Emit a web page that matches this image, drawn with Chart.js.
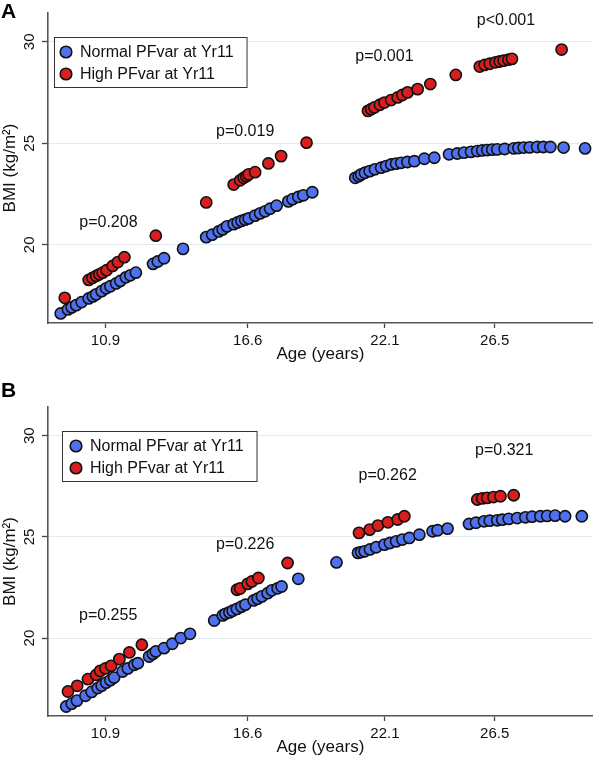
<!DOCTYPE html>
<html>
<head>
<meta charset="utf-8">
<script src="https://cdn.jsdelivr.net/npm/chart.js@4.4.1/dist/chart.umd.min.js"></script>
<style>
  body { margin: 0; background: #fff; }
  canvas { display: block; }
</style>
</head>
<body>
<canvas id="panelA" width="600" height="380"></canvas>
<canvas id="panelB" width="600" height="381"></canvas>
<script>
// --- data ---
const seriesLabels = ['Normal PFvar at Yr11', 'High PFvar at Yr11'];
const xTickValues = [10.9, 16.6, 22.1, 26.5]; // mean age at each visit
const yTickValues = [20, 25, 30];

// panel A
const ageNormalA = [9.11, 9.40, 9.55, 9.73, 9.95, 10.23, 10.40, 10.53, 10.75, 10.93, 11.10, 11.33, 11.50, 11.72, 11.90, 12.12,
  12.81, 13.00, 13.25, 14.01, 14.94, 15.18, 15.44, 15.60, 15.77, 16.04, 16.20, 16.35, 16.50, 16.64, 16.90, 17.10, 17.30,
  17.50, 17.76, 18.23, 18.40, 18.63, 18.83, 19.19, 20.91, 21.05, 21.15, 21.30, 21.49, 21.70, 21.95, 22.15, 22.35, 22.55,
  22.75, 23.00, 23.28, 23.68, 24.08, 24.67, 25.00, 25.27, 25.55, 25.80, 26.00, 26.20, 26.40, 26.60, 26.90, 27.26, 27.45,
  27.66, 27.90, 28.20, 28.45, 28.73, 29.26, 30.12];
const bmiNormalA = [16.62, 16.82, 16.92, 17.03, 17.18, 17.36, 17.46, 17.56, 17.72, 17.86, 17.96, 18.10, 18.22, 18.40, 18.50, 18.63,
  19.06, 19.18, 19.34, 19.80, 20.38, 20.50, 20.66, 20.76, 20.91, 21.02, 21.10, 21.18, 21.24, 21.30, 21.44, 21.55, 21.65,
  21.78, 21.93, 22.14, 22.25, 22.36, 22.44, 22.59, 23.30, 23.38, 23.47, 23.55, 23.63, 23.72, 23.80, 23.88, 23.96, 24.00,
  24.04, 24.08, 24.12, 24.24, 24.29, 24.46, 24.50, 24.54, 24.58, 24.62, 24.65, 24.67, 24.69, 24.70, 24.72, 24.75, 24.77,
  24.79, 24.80, 24.82, 24.82, 24.82, 24.79, 24.75];
const ageHighA = [9.27, 10.23, 10.38, 10.53, 10.66, 10.79, 10.95, 11.19, 11.40, 11.66, 12.92, 14.94, 16.04, 16.30, 16.44, 16.55,
  16.64, 16.90, 17.43, 17.94, 18.96, 21.42, 21.55, 21.68, 21.90, 22.08, 22.35, 22.61, 22.80, 23.01, 23.41, 23.92, 24.94,
  25.90, 26.10, 26.30, 26.53, 26.70, 26.86, 27.05, 27.19, 29.18];
const bmiHighA = [17.39, 18.27, 18.37, 18.47, 18.55, 18.63, 18.75, 18.96, 19.15, 19.39, 20.45, 22.09, 22.97, 23.18, 23.30, 23.38,
  23.47, 23.58, 24.01, 24.37, 25.03, 26.60, 26.68, 26.77, 26.90, 27.01, 27.13, 27.26, 27.38, 27.51, 27.67, 27.92, 28.37,
  28.78, 28.86, 28.92, 28.99, 29.03, 29.07, 29.12, 29.16, 29.62];
const pTextA = ['p=0.208', 'p=0.019', 'p=0.001', 'p<0.001'];
const pAgeA = [11.02, 16.5, 22.08, 26.95];
const pBmiA = [21.09, 25.56, 29.29, 31.05];

// panel B
const ageNormalB = [9.33, 9.55, 9.76, 10.10, 10.35, 10.59, 10.75, 10.93, 11.10, 11.25, 11.59, 11.80, 12.06, 12.20, 12.65, 12.80,
  12.92, 13.25, 13.58, 13.92, 14.29, 15.26, 15.60, 15.71, 15.87, 16.00, 16.17, 16.35, 16.51, 16.84, 17.00, 17.17, 17.40,
  17.57, 17.80, 17.96, 18.63, 20.16, 21.02, 21.15, 21.29, 21.50, 21.75, 22.08, 22.30, 22.55, 22.80, 23.08, 23.48, 24.01,
  24.21, 24.61, 25.47, 25.75, 26.07, 26.30, 26.60, 26.80, 27.06, 27.40, 27.73, 28.00, 28.33, 28.60, 28.92, 29.32, 29.99];
const bmiNormalB = [16.62, 16.76, 16.91, 17.15, 17.34, 17.53, 17.65, 17.80, 17.92, 18.05, 18.35, 18.50, 18.68, 18.76, 19.09, 19.22,
  19.34, 19.50, 19.72, 20.00, 20.21, 20.87, 21.12, 21.20, 21.27, 21.35, 21.44, 21.55, 21.65, 21.86, 21.95, 22.06, 22.22,
  22.36, 22.46, 22.55, 22.93, 23.74, 24.21, 24.25, 24.29, 24.38, 24.49, 24.62, 24.70, 24.78, 24.87, 24.95, 25.11, 25.28,
  25.33, 25.41, 25.64, 25.70, 25.77, 25.80, 25.82, 25.85, 25.89, 25.93, 25.97, 26.00, 26.02, 26.04, 26.05, 26.02, 26.02];
const ageHighB = [9.40, 9.77, 10.20, 10.53, 10.69, 10.90, 11.13, 11.46, 11.86, 12.36, 16.17, 16.30, 16.60, 16.77, 17.03, 18.20,
  21.06, 21.49, 21.82, 22.22, 22.61, 22.88, 25.80, 26.00, 26.20, 26.45, 26.73, 27.26];
const bmiHighB = [17.36, 17.64, 17.97, 18.18, 18.38, 18.50, 18.63, 18.96, 19.29, 19.67, 22.39, 22.45, 22.68, 22.80, 22.97, 23.71,
  25.20, 25.36, 25.56, 25.72, 25.86, 26.02, 26.85, 26.90, 26.93, 26.97, 27.01, 27.06];
const pTextB = ['p=0.255', 'p=0.226', 'p=0.262', 'p=0.321'];
const pAgeB = [11.01, 16.5, 22.21, 26.88];
const pBmiB = [21.12, 24.62, 28.05, 29.27];

// --- drawing ---
const FONT = '"Liberation Sans", Arial, sans-serif';
const BLUE = '#4f71ef';
const RED = '#da1d1d';

function toPoints(xs, ys) {
  return xs.map((x, i) => ({ x: x, y: ys[i] }));
}

// p-values, boxed legend and panel letter
const panelExtras = {
  id: 'panelExtras',
  afterDraw(chart, args, opts) {
    const ctx = chart.ctx;
    const xs = chart.scales.x, ys = chart.scales.y, area = chart.chartArea;
    ctx.save();

    ctx.font = '16px ' + FONT;
    ctx.fillStyle = '#111';
    ctx.textAlign = 'center';
    ctx.textBaseline = 'middle';
    opts.pText.forEach((t, i) => {
      ctx.fillText(t, xs.getPixelForValue(opts.pAge[i]), ys.getPixelForValue(opts.pBmi[i]));
    });

    // legend box
    const lx = area.left + opts.legendDx, ly = area.top + opts.legendDy;
    const items = chart.data.datasets;
    const textW = Math.max(...items.map(d => ctx.measureText(d.label).width));
    const w = opts.textDx + textW + 13, h = 50;
    ctx.fillStyle = '#fff';
    ctx.fillRect(lx, ly, w, h);
    ctx.strokeStyle = '#333';
    ctx.lineWidth = 1;
    ctx.strokeRect(lx + 0.5, ly + 0.5, w, h);
    items.forEach((d, i) => {
      const cy = ly + 15 + i * 22;
      ctx.beginPath();
      ctx.arc(lx + opts.textDx - 14, cy, 5.8, 0, Math.PI * 2);
      ctx.fillStyle = d.backgroundColor;
      ctx.fill();
      ctx.lineWidth = 1.6;
      ctx.strokeStyle = '#111';
      ctx.stroke();
      ctx.fillStyle = '#111';
      ctx.textAlign = 'left';
      ctx.fillText(d.label, lx + opts.textDx, cy + 1);
    });

    ctx.font = 'bold 21px ' + FONT;
    ctx.fillStyle = '#000';
    ctx.textAlign = 'left';
    ctx.textBaseline = 'alphabetic';
    ctx.fillText(opts.letter, 1, opts.letterBase);
    ctx.restore();
  }
};

function makePanel(id, normal, high, extras, pad) {
  const pointStyle = {
    showLine: false,
    pointRadius: 5.6,
    pointHoverRadius: 5.6,
    borderWidth: 1.6,
    borderColor: '#111'
  };
  return new Chart(document.getElementById(id), {
    type: 'scatter',
    data: {
      datasets: [
        Object.assign({ label: seriesLabels[0], data: normal, backgroundColor: BLUE, order: 2 }, pointStyle),
        Object.assign({ label: seriesLabels[1], data: high, backgroundColor: RED, order: 1 }, pointStyle)
      ]
    },
    options: {
      responsive: false,
      animation: false,
      devicePixelRatio: 1,
      layout: { padding: { top: pad.top, right: 2, left: 0, bottom: pad.bottom } },
      plugins: {
        legend: { display: false },
        tooltip: { enabled: false },
        panelExtras: extras
      },
      scales: {
        x: {
          type: 'linear',
          min: 8.6,
          max: 30.43,
          afterBuildTicks: s => { s.ticks = xTickValues.map(v => ({ value: v })); },
          afterFit: s => { s.height = 45; },
          ticks: {
            autoSkip: false,
            padding: 4,
            color: '#111',
            font: { family: FONT, size: 15 },
            callback: v => v.toFixed(1)
          },
          grid: { drawOnChartArea: false, drawTicks: true, tickLength: 5, tickColor: '#444', tickWidth: 1.3 },
          border: { display: true, color: '#555', width: 1.6 },
          title: { display: true, text: 'Age (years)', color: '#111', font: { family: FONT, size: 17 }, padding: { top: 0, bottom: 3 } }
        },
        y: {
          type: 'linear',
          min: 16.15,
          max: 31.42,
          afterBuildTicks: s => { s.ticks = yTickValues.map(v => ({ value: v })); },
          afterFit: s => { s.width = 48; },
          ticks: {
            minRotation: 90,
            maxRotation: 90,
            crossAlign: 'center',
            padding: 4,
            color: '#111',
            font: { family: FONT, size: 15 }
          },
          grid: { color: '#dfe9ee', lineWidth: 1, drawTicks: true, tickLength: 6, tickColor: '#444', tickWidth: 1.3 },
          border: { display: true, color: '#555', width: 1.6 },
          title: { display: true, text: 'BMI (kg/m²)', color: '#111', font: { family: FONT, size: 17 }, padding: { top: 0, bottom: 0 } }
        }
      }
    },
    plugins: [panelExtras]
  });
}

makePanel('panelA', toPoints(ageNormalA, bmiNormalA), toPoints(ageHighA, bmiHighA),
  { pText: pTextA, pAge: pAgeA, pBmi: pBmiA, legendDx: 6, legendDy: 24, textDx: 26, letter: 'A', letterBase: 18 },
  { top: 13, bottom: 12 });

makePanel('panelB', toPoints(ageNormalB, bmiNormalB), toPoints(ageHighB, bmiHighB),
  { pText: pTextB, pAge: pAgeB, pBmi: pBmiB, legendDx: 14, legendDy: 24, textDx: 28, letter: 'B', letterBase: 17 },
  { top: 27, bottom: 0 });
</script>
</body>
</html>
